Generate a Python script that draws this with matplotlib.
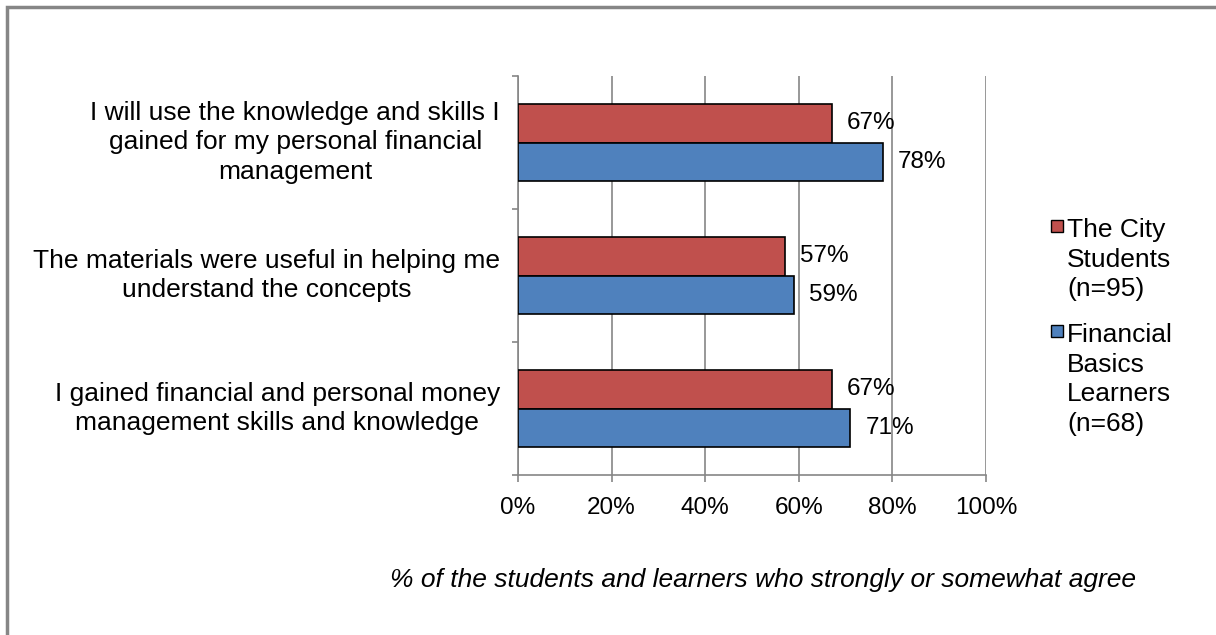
import matplotlib.pyplot as plt
from matplotlib.patches import Rectangle

plt.rcParams['font.family'] = ['Liberation Sans', 'DejaVu Sans']

statements = [
    'I will use the knowledge and skills I\ngained for my personal financial\nmanagement',
    'The materials were useful in helping me\nunderstand the concepts',
    'I gained financial and personal money\nmanagement skills and knowledge',
]
city_students = [67, 57, 67]
basics_learners = [78, 59, 71]
series_names = ['The City\nStudents\n(n=95)', 'Financial\nBasics\nLearners\n(n=68)']
xticks = [0, 20, 40, 60, 80, 100]

red = '#C0504D'
blue = '#4F81BD'
gray = '#868686'
W, H = 1216, 635

fig = plt.figure(figsize=(W / 100, H / 100), dpi=100)
ax = fig.add_axes([518 / W, 1 - 475 / H, 468 / W, 399 / H])

# outer frame
fig.patches.append(Rectangle((7 / W, -0.1), 1.2, 1 - 7 / H + 0.1,
                             transform=fig.transFigure, fill=False,
                             edgecolor=gray, linewidth=2.5))

n = len(statements)
ypos = list(range(n))[::-1]
h = 0.29
for i, y in enumerate(ypos):
    ax.barh(y + h / 2, city_students[i], height=h, color=red, edgecolor='black', linewidth=1.2, zorder=3)
    ax.barh(y - h / 2, basics_learners[i], height=h, color=blue, edgecolor='black', linewidth=1.2, zorder=3)
    ax.text(city_students[i] + 3.2, y + h / 2, f'{city_students[i]}%', va='center', ha='left', fontsize=17.5)
    ax.text(basics_learners[i] + 3.2, y - h / 2, f'{basics_learners[i]}%', va='center', ha='left', fontsize=17.5)

ax.set_xlim(0, 100)
ax.set_ylim(-0.5, n - 0.5)
ax.set_xticks(xticks)
ax.set_xticklabels([f'{t}%' for t in xticks], fontsize=17.5)
ax.set_yticks(ypos)
ax.set_yticklabels(statements, fontsize=19, linespacing=1.3, multialignment='center', va='center')
ax.tick_params(axis='y', length=0, pad=13)
ax.set_yticks([k - 0.5 for k in range(n + 1)], minor=True)
ax.tick_params(axis='y', which='minor', length=4, color=gray, width=1.2)
ax.tick_params(axis='x', length=5, color=gray, width=1.2, pad=11)
ax.grid(axis='x', color=gray, linewidth=1.2, zorder=0)
ax.set_axisbelow(True)
for side in ['top', 'right']:
    ax.spines[side].set_visible(False)
for side in ['left', 'bottom']:
    ax.spines[side].set_color(gray)
    ax.spines[side].set_linewidth(1.2)

# legend: square beside the first line of each label
legend_colors = [red, blue]
legend_top = [226, 331]
for color, name, yc in zip(legend_colors, series_names, legend_top):
    fig.patches.append(Rectangle((1051 / W, 1 - (yc + 6) / H), 12 / W, 12 / H,
                                 transform=fig.transFigure, facecolor=color,
                                 edgecolor='black', linewidth=1.0))
    fig.text(1067 / W, 1 - (yc - 8) / H, name, ha='left', va='top',
             fontsize=19, linespacing=1.3)

fig.text(763 / W, 1 - 580 / H, '% of the students and learners who strongly or somewhat agree',
         ha='center', va='center', fontsize=19, style='italic')

fig.savefig('out.png', dpi=100)
